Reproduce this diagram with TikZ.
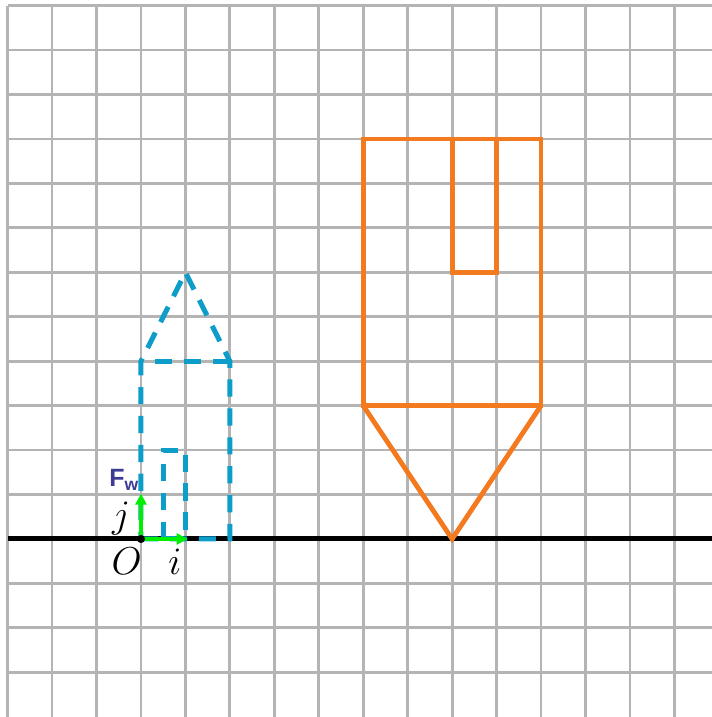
\documentclass[tikz,border=0pt]{standalone}
\usepackage{fontspec}
\newfontfamily\fwfont{Liberation Sans}
\definecolor{gridgray}{RGB}{180,180,180}
\definecolor{orangeC}{RGB}{244,122,32}
\definecolor{blueC}{RGB}{14,156,200}
\definecolor{greenC}{RGB}{0,238,0}
\definecolor{fwC}{RGB}{60,60,150}
\usetikzlibrary{arrows.meta}
\begin{document}
\begin{tikzpicture}[x=1cm,y=1cm,
  gridline/.style={draw=gridgray,line width=1.8pt},
  axisline/.style={draw=black,line width=3.2pt},
  orangeshape/.style={draw=orangeC,line width=3.1pt,line join=miter},
  blueshape/.style={draw=blueC,line width=3.2pt,dash pattern=on 11pt off 7.5pt,line join=miter},
  unitvec/.style={draw=greenC,line width=2pt,-{Triangle[length=7pt,width=7pt]}},
  mathlbl/.style={font=\fontsize{23}{26}\selectfont,inner sep=0pt},
  fwlbl/.style={font=\fwfont\bfseries\fontsize{16}{18}\selectfont,text=fwC,inner sep=0pt}]
\useasboundingbox (-3.172,-4.005) rectangle (12.846,12.126);
% grid
\foreach \x in {-3,...,12} \draw[gridline] (\x,-4.005) -- (\x,12);
\foreach \y in {-3,...,12} \draw[gridline] (-3,\y) -- (12.846,\y);
% axis
\coordinate (axL) at (-3,0);
\coordinate (axR) at (12.846,0);
\draw[axisline] (axL) -- (axR);
% orange shape
\coordinate (oA) at (5,9);
\coordinate (oB) at (9,9);
\coordinate (oC) at (9,3);
\coordinate (oD) at (5,3);
\coordinate (oTip) at (7,0);
\draw[orangeshape] (oA) -- (oB) -- (oC) -- (oD) -- cycle;
\draw[orangeshape] (7,9) rectangle (8,6);
\draw[orangeshape] (oD) -- (oTip) -- (oC);
% blue dashed shape
\coordinate (bA) at (0,0);
\coordinate (bB) at (2,0);
\coordinate (bC) at (2,4);
\coordinate (bTop) at (1,6);
\coordinate (bD) at (0,4);
\draw[blueshape] (bA) -- (bB) -- (bC) -- (bTop) -- (bD) -- cycle;
\draw[blueshape] (bC) -- (bD);
\draw[blueshape] (0.5,0) rectangle (1,2);
% unit vectors
\coordinate (O) at (0,0);
\coordinate (ie) at (1.05,0);
\coordinate (je) at (0,1.02);
\draw[unitvec] (O) -- (ie);
\draw[unitvec] (O) -- (je);
\fill[black] (O) circle (2.6pt);
% labels
\node[mathlbl] (lO) at (-0.32,-0.5) {$O$};
\node[mathlbl] (li) at (0.76,-0.52) {$i$};
\node[mathlbl] (lj) at (-0.45,0.45) {$j$};
\node[fwlbl] (lF) at (-0.38,1.33) {F\textsubscript{w}};
\end{tikzpicture}
\end{document}
